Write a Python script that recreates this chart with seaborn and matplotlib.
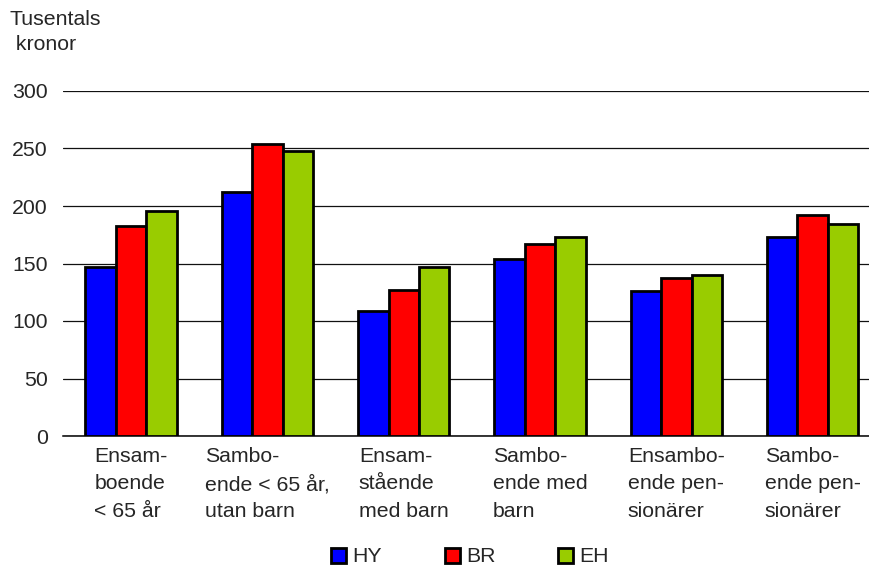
import matplotlib
matplotlib.use("Agg")
import matplotlib.pyplot as plt
import seaborn as sns
import pandas as pd

# Household types (wrapped the way they are printed under the axis)
categories = [
    "Ensam-\nboende\n< 65 år",
    "Sambo-\nende < 65 år,\nutan barn",
    "Ensam-\nstående\nmed barn",
    "Sambo-\nende med\nbarn",
    "Ensambo-\nende pen-\nsionärer",
    "Sambo-\nende pen-\nsionärer",
]
series_names = ["HY", "BR", "EH"]
hy = [147, 212, 109, 154, 126, 173]
br = [183, 254, 127, 167, 137, 192]
eh = [196, 248, 147, 173, 140, 184]
y_ticks = [0, 50, 100, 150, 200, 250, 300]
colors = {"HY": "#0000FF", "BR": "#FF0000", "EH": "#99CC00"}

df = pd.DataFrame({
    "kategori": categories * 3,
    "serie": ["HY"] * 6 + ["BR"] * 6 + ["EH"] * 6,
    "värde": hy + br + eh,
})

sns.set_theme(style="white")
plt.rcParams["font.family"] = ["Liberation Sans", "DejaVu Sans"]
FS = 15.3

W, H = 869, 565
fig = plt.figure(figsize=(W / 100, H / 100), dpi=100)
ax = fig.add_axes([63 / W, (H - 436) / H, (W - 63) / W, (436 - 91) / H])

sns.barplot(
    data=df, x="kategori", y="värde", hue="serie",
    order=categories, hue_order=series_names, palette=colors,
    width=0.67, saturation=1, edgecolor="black", linewidth=2,
    ax=ax, zorder=3, legend=True,
)

ax.set_ylim(0, 300)
ax.set_xlim(-0.5, -0.5 + (W - 63) / 136.3)
ax.set_yticks(y_ticks)
ax.set_yticklabels([str(v) for v in y_ticks], fontsize=FS)
ax.yaxis.grid(True, color="#111111", linewidth=0.9, zorder=0)
ax.xaxis.grid(False)
ax.set_axisbelow(True)
for side in ["left", "right", "top"]:
    ax.spines[side].set_visible(False)
ax.spines["bottom"].set_color("black")
ax.spines["bottom"].set_linewidth(1.1)
ax.tick_params(axis="y", length=0, pad=11)
ax.tick_params(axis="x", length=0, pad=8)
ax.set_xlabel("")
ax.set_ylabel("")
for lbl in ax.get_xticklabels():
    lbl.set_fontsize(FS)
    lbl.set_multialignment("left")
    lbl.set_linespacing(1.55)

fig.text(10 / W, 1 - 10 / H, "Tusentals\n kronor", fontsize=FS,
         ha="left", va="top", linespacing=1.4)

handles, labels = ax.get_legend_handles_labels()
ax.get_legend().remove()
fig.legend(handles, labels, loc="center", bbox_to_anchor=(470 / W, 8 / H),
           ncol=3, frameon=False, fontsize=FS, handlelength=0.7,
           handleheight=0.7, handletextpad=0.3, columnspacing=2.95,
           borderaxespad=0)

fig.savefig("out.png", dpi=100)
